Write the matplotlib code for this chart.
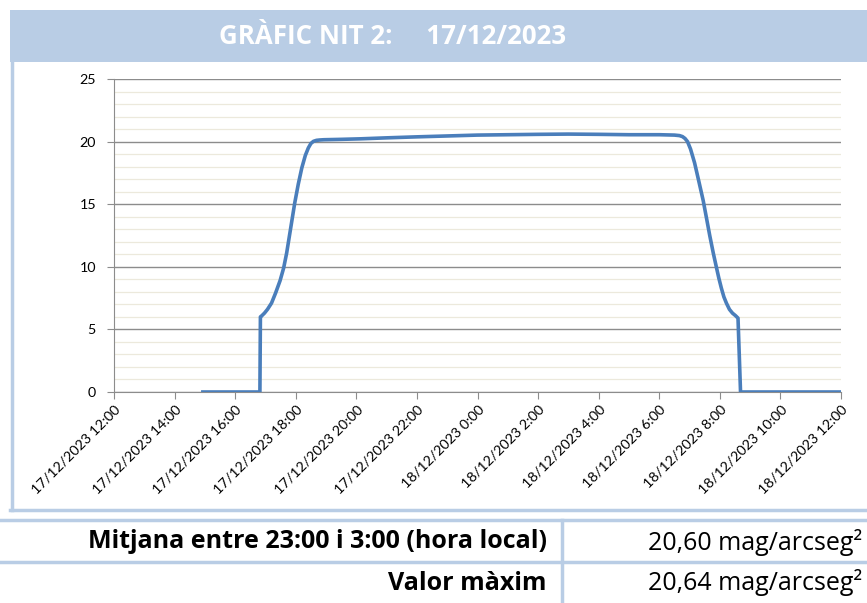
import matplotlib
matplotlib.use("Agg")
import matplotlib.pyplot as plt
from matplotlib.lines import Line2D
from matplotlib.patches import Rectangle
import pandas as pd

title_text = "GRÀFIC NIT 2:     17/12/2023"
times = ["2023-12-17 14:56", "2023-12-17 16:49", "2023-12-17 16:50", "2023-12-17 16:53",
         "2023-12-17 16:58", "2023-12-17 17:04", "2023-12-17 17:12", "2023-12-17 17:20",
         "2023-12-17 17:29", "2023-12-17 17:36", "2023-12-17 17:42", "2023-12-17 17:50",
         "2023-12-17 17:58", "2023-12-17 18:05", "2023-12-17 18:12", "2023-12-17 18:19",
         "2023-12-17 18:25", "2023-12-17 18:30", "2023-12-17 18:35", "2023-12-17 18:41",
         "2023-12-17 18:48", "2023-12-17 18:56", "2023-12-17 19:30", "2023-12-17 20:07",
         "2023-12-17 21:00", "2023-12-17 22:00", "2023-12-17 23:00", "2023-12-18 00:00",
         "2023-12-18 01:00", "2023-12-18 02:00", "2023-12-18 03:00", "2023-12-18 04:00",
         "2023-12-18 05:00", "2023-12-18 06:00", "2023-12-18 06:30", "2023-12-18 06:40",
         "2023-12-18 06:46", "2023-12-18 06:51", "2023-12-18 06:56", "2023-12-18 07:02",
         "2023-12-18 07:10", "2023-12-18 07:18", "2023-12-18 07:27", "2023-12-18 07:34",
         "2023-12-18 07:40", "2023-12-18 07:47", "2023-12-18 07:53", "2023-12-18 07:58",
         "2023-12-18 08:03", "2023-12-18 08:08", "2023-12-18 08:13", "2023-12-18 08:19",
         "2023-12-18 08:25", "2023-12-18 08:31", "2023-12-18 08:36", "2023-12-18 08:41",
         "2023-12-18 12:00"]
values = [0, 0, 6.0, 6.1,
          6.3, 6.6, 7.1, 7.9,
          8.9, 9.9, 11.1, 13.1,
          15.1, 16.6, 17.9, 18.9,
          19.5, 19.85, 20.02, 20.1,
          20.13, 20.15, 20.18, 20.22,
          20.3, 20.38, 20.45, 20.52,
          20.55, 20.58, 20.6, 20.58,
          20.55, 20.55, 20.52, 20.48,
          20.4, 20.25, 20.0, 19.4,
          18.3, 16.9, 15.3, 13.8,
          12.5, 11.1, 10.0, 9.1,
          8.3, 7.6, 7.1, 6.6,
          6.3, 6.1, 5.9, 0,
          0]
xtick_labels = ["17/12/2023 12:00", "17/12/2023 14:00", "17/12/2023 16:00", "17/12/2023 18:00",
                "17/12/2023 20:00", "17/12/2023 22:00", "18/12/2023 0:00", "18/12/2023 2:00",
                "18/12/2023 4:00", "18/12/2023 6:00", "18/12/2023 8:00", "18/12/2023 10:00",
                "18/12/2023 12:00"]
yticks = [0, 5, 10, 15, 20, 25]
row_labels = ["Mitjana entre 23:00 i 3:00 (hora local)", "Valor màxim"]
row_values = ["20,60 mag/arcseg²", "20,64 mag/arcseg²"]

FONT = "Lato"
BIG = "Open Sans"
W, H = 867, 603
fig = plt.figure(figsize=(W / 100, H / 100), dpi=100)

def fx(px):
    return px / W

def fy(py):
    return 1 - py / H

band = "#b9cde5"
fig.patches.append(Rectangle((fx(10), fy(62)), fx(857), (52) / H, transform=fig.transFigure,
                             facecolor=band, edgecolor="none"))
fig.text(fx(393), fy(37), title_text, color="white", fontsize=18.6, fontweight="bold",
         family=BIG, ha="center", va="center")
# chart box borders
fig.lines.append(Line2D([fx(11.5), fx(11.5)], [fy(62), fy(510)], transform=fig.transFigure,
                        color=band, lw=2.5))
fig.lines.append(Line2D([fx(10), fx(867)], [fy(510), fy(510)], transform=fig.transFigure,
                        color=band, lw=2.5))
# table lines
for yy in (520, 562):
    fig.lines.append(Line2D([0, 1], [fy(yy), fy(yy)], transform=fig.transFigure, color=band, lw=2.5))
fig.lines.append(Line2D([fx(562), fx(562)], [fy(520), 0], transform=fig.transFigure, color=band, lw=2.5))

for i, (lab, val) in enumerate(zip(row_labels, row_values)):
    yy = 542 + 41 * i
    fig.text(fx(547), fy(yy), lab, fontsize=18, fontweight="bold", family=BIG,
             ha="right", va="center", color="black")
    fig.text(fx(648), fy(yy), val, fontsize=18, family=BIG, ha="left", va="center", color="black")

ax = fig.add_axes([fx(114), fy(392), fx(841 - 114), (392 - 79) / H])
x = pd.to_datetime(times)
ax.plot(x, values, color="#4a7ebb", lw=2.6, solid_joinstyle="round", zorder=5)

ax.set_ylim(0, 25)
ax.set_yticks(yticks)
ax.set_yticks(range(0, 26), minor=True)
xt = pd.date_range("2023-12-17 12:00", "2023-12-18 12:00", freq="2h")
ax.set_xlim(xt[0], xt[-1])
ax.set_xticks(xt)
ax.set_xticklabels(xtick_labels, rotation=45, ha="right", rotation_mode="anchor",
                   fontsize=10.3, family=FONT)
for t in ax.get_yticklabels():
    t.set_fontfamily(FONT)
    t.set_fontsize(10.3)
ax.grid(which="minor", axis="y", color="#ece9dc", lw=0.9)
ax.grid(which="major", axis="y", color="#8c8c8c", lw=1.0)
ax.tick_params(axis="y", which="minor", length=0)
ax.tick_params(axis="y", which="major", length=5, color="#8c8c8c", pad=8)
ax.tick_params(axis="x", length=5, color="#8c8c8c", pad=3)
for s in ("top", "right"):
    ax.spines[s].set_visible(False)
for s in ("left", "bottom"):
    ax.spines[s].set_color("#8c8c8c")
ax.set_axisbelow(True)

fig.savefig("out.png", dpi=100)
